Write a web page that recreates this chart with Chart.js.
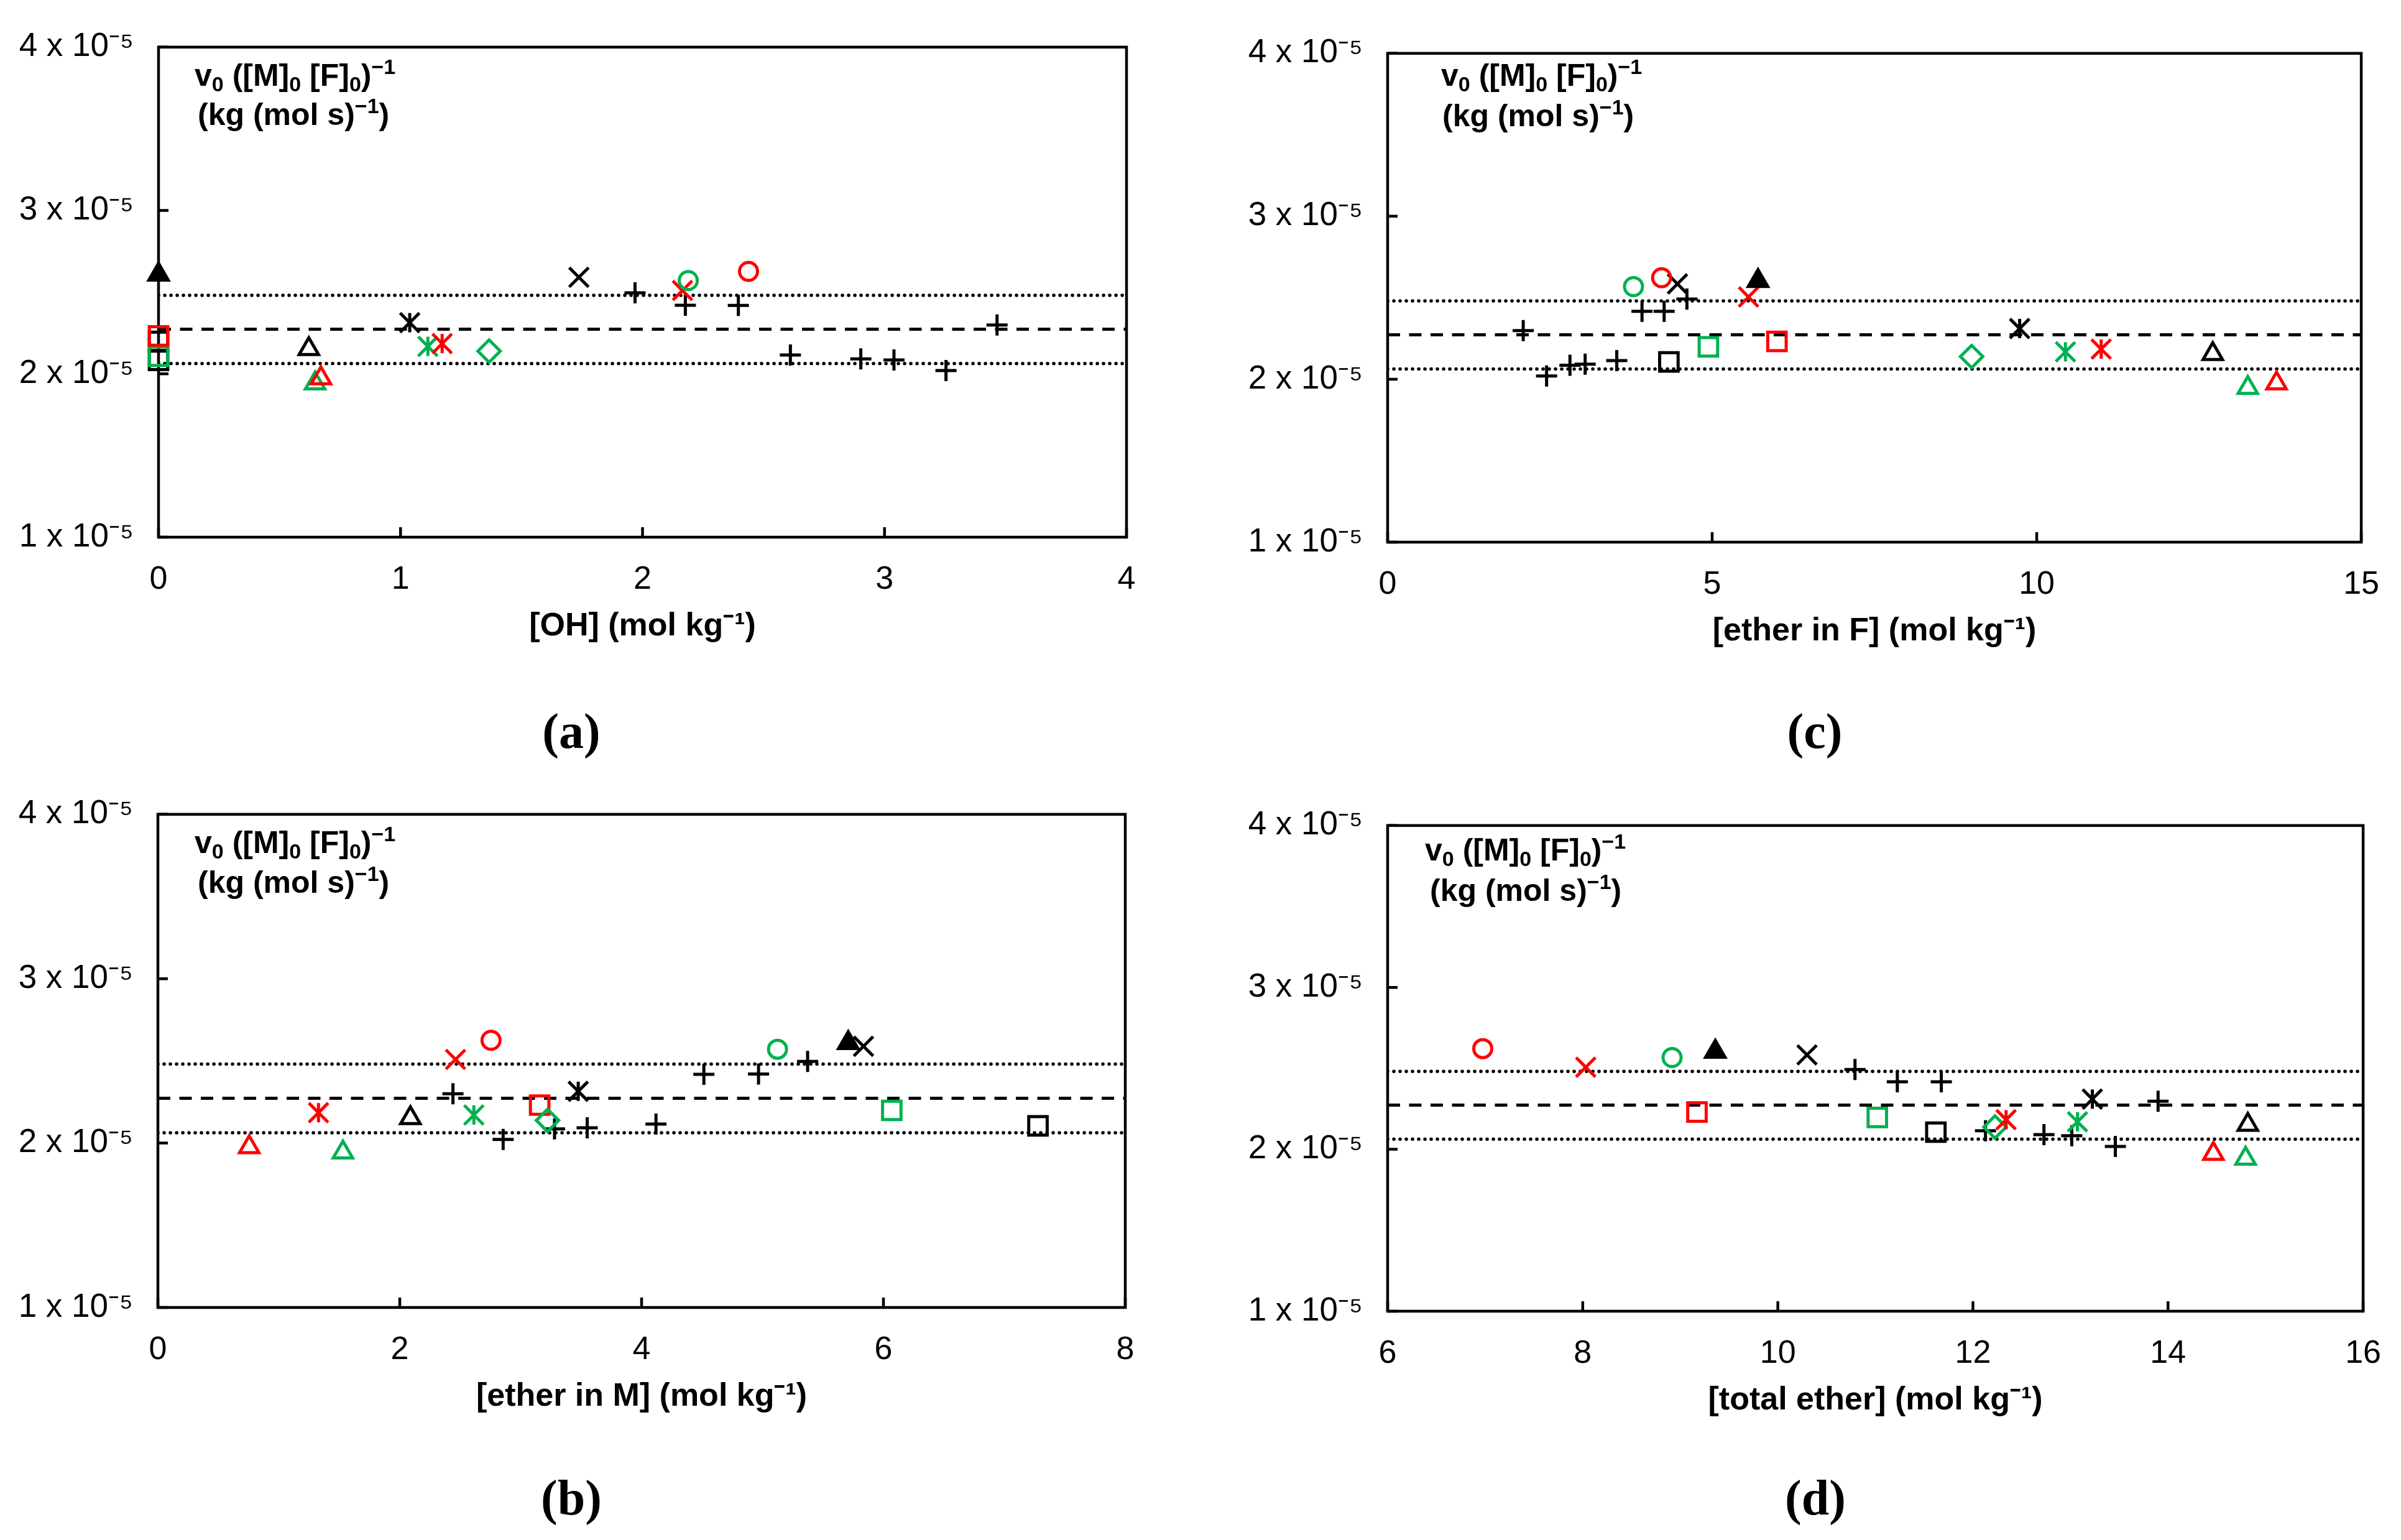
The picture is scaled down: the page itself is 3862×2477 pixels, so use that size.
<!DOCTYPE html>
<html><head><meta charset="utf-8">
<script src="https://cdn.jsdelivr.net/npm/chart.js@4.4.1/dist/chart.umd.min.js"></script>
<style>
html,body{margin:0;padding:0;background:#fff;width:3862px;height:2477px;overflow:hidden;position:relative;}
canvas{position:absolute;}
.ann{position:absolute;font-family:'Liberation Sans',Arial,sans-serif;font-weight:bold;font-size:50px;line-height:50px;color:#000;white-space:nowrap;}
.ann .sb{font-size:34px;position:relative;top:9px;}
.ann .sp{font-size:34px;position:relative;top:-19px;}
.plabel{position:absolute;font-family:'Liberation Serif','Times New Roman',serif;font-weight:bold;font-size:80px;color:#000;transform:translate(-50%,-50%);white-space:nowrap;}
</style></head><body>
<script>
// ---------------- data ----------------
// series order for single-point samples
const SERIES = ['blackTriFill','redCircle','greenCircle','blackX','redX','redStar','greenStar','blackStar','greenDiamond','redTri','greenTri','blackTri','redSq','greenSq','blackSq'];

// (a) [OH]
const ohX = [0, 2.438, 2.189, 1.737, 2.165, 1.172, 1.113, 1.038, 1.366, 0.671, 0.647, 0.621, 0, 0, 0];
const ohY = [2.608e-5, 2.627e-5, 2.571e-5, 2.591e-5, 2.510e-5, 2.185e-5, 2.168e-5, 2.313e-5, 2.139e-5, 1.973e-5, 1.942e-5, 2.152e-5, 2.232e-5, 2.108e-5, 2.082e-5];
const ohPlusX = [1.969, 2.177, 2.396, 3.465, 2.611, 2.902, 3.039, 3.254];
const ohPlusY = [2.496e-5, 2.420e-5, 2.419e-5, 2.299e-5, 2.115e-5, 2.091e-5, 2.085e-5, 2.020e-5];
const ohExtraSqX = [0];
const ohExtraSqY = [2.199e-5];

// (c) [ether in F]
const efX = [5.706, 4.221, 3.788, 4.465, 5.560, 10.993, 10.443, 9.737, 8.997, 13.695, 13.252, 12.712, 5.998, 4.942, 4.333];
const efY = [2.604e-5, 2.623e-5, 2.568e-5, 2.585e-5, 2.505e-5, 2.185e-5, 2.168e-5, 2.311e-5, 2.139e-5, 1.975e-5, 1.947e-5, 2.155e-5, 2.232e-5, 2.199e-5, 2.106e-5];
const efPlusX = [4.611, 3.919, 4.260, 2.089, 3.530, 2.809, 3.043, 2.449];
const efPlusY = [2.492e-5, 2.417e-5, 2.417e-5, 2.298e-5, 2.114e-5, 2.086e-5, 2.092e-5, 2.020e-5];

// (b) [ether in M]
const emX = [5.709, 2.755, 5.124, 5.835, 2.461, 1.328, 2.613, 3.476, 3.222, 0.755, 1.530, 2.088, 3.157, 6.069, 7.278];
const emY = [2.609e-5, 2.625e-5, 2.571e-5, 2.589e-5, 2.509e-5, 2.185e-5, 2.171e-5, 2.315e-5, 2.138e-5, 1.976e-5, 1.944e-5, 2.153e-5, 2.231e-5, 2.199e-5, 2.105e-5];
const emPlusX = [5.373, 4.515, 4.967, 2.440, 4.119, 3.280, 3.550, 2.855];
const emPlusY = [2.497e-5, 2.418e-5, 2.420e-5, 2.300e-5, 2.116e-5, 2.086e-5, 2.093e-5, 2.022e-5];

// (d) [total ether]
const teX = [9.359, 6.975, 8.916, 10.299, 8.031, 12.340, 13.072, 13.224, 12.226, 14.465, 14.795, 14.818, 9.171, 11.02, 11.62];
const teY = [2.603e-5, 2.622e-5, 2.567e-5, 2.583e-5, 2.507e-5, 2.183e-5, 2.170e-5, 2.310e-5, 2.138e-5, 1.973e-5, 1.943e-5, 2.152e-5, 2.230e-5, 2.197e-5, 2.106e-5];
const tePlusX = [10.791, 11.225, 11.676, 13.898, 12.129, 12.728, 13.013, 13.460];
const tePlusY = [2.493e-5, 2.417e-5, 2.417e-5, 2.297e-5, 2.115e-5, 2.091e-5, 2.084e-5, 2.018e-5];

// reference lines: mean and band
const meanValue = [2.273e-5];
const bandValues = [2.481e-5, 2.063e-5];

// axes
const yTickValues = [1e-5, 2e-5, 3e-5, 4e-5];
const xLimitsOH = [0, 4, 1];
const xLimitsEF = [0, 15, 5];
const xLimitsEM = [0, 8, 2];
const xLimitsTE = [6, 16, 2];
const xTitles = ['[OH] (mol kg⁻¹)', '[ether in F] (mol kg⁻¹)', '[ether in M] (mol kg⁻¹)', '[total ether] (mol kg⁻¹)'];
const panelLabels = ['(a)', '(c)', '(b)', '(d)'];

// ---------------- styles ----------------
const RED = '#FF0000', GREEN = '#00B050', BLACK = '#000000';
const STYLE = {
  blackTriFill: {ps:'triangle', r:18, c:BLACK, fill:true},
  redCircle:    {ps:'circle', r:14.5, c:RED},
  greenCircle:  {ps:'circle', r:14.5, c:GREEN},
  blackX:       {ps:'crossRot', r:22, c:BLACK},
  redX:         {ps:'crossRot', r:22, c:RED},
  redStar:      {star:true, c:RED},
  greenStar:    {star:true, c:GREEN},
  blackStar:    {star:true, c:BLACK},
  greenDiamond: {ps:'rectRot', r:18, c:GREEN},
  redTri:       {ps:'triangle', r:18, c:RED},
  greenTri:     {ps:'triangle', r:18, c:GREEN},
  blackTri:     {ps:'triangle', r:18, c:BLACK},
  redSq:        {ps:'rect', r:21, c:RED},
  greenSq:      {ps:'rect', r:21, c:GREEN},
  blackSq:      {ps:'rect', r:21, c:BLACK}
};
const LW = 5;

function pts(xs, ys) { return xs.map((x, i) => ({x: x, y: ys[i]})); }

function markerDatasets(name, data) {
  const s = STYLE[name];
  const base = {data: data, showLine: false, clip: false, pointBorderWidth: LW, borderWidth: LW,
    pointBorderColor: s.c, borderColor: s.c, pointHoverRadius: 0};
  if (s.star) {
    return [
      Object.assign({}, base, {label: name, pointStyle: 'crossRot', pointRadius: 22, pointBackgroundColor: 'rgba(0,0,0,0)'}),
      Object.assign({}, base, {label: name + '_v', pointStyle: 'line', pointRotation: 90, pointRadius: 15.5, pointBackgroundColor: 'rgba(0,0,0,0)'})
    ];
  }
  return [Object.assign({}, base, {label: name, pointStyle: s.ps, pointRadius: s.r,
    pointBackgroundColor: s.fill ? s.c : 'rgba(0,0,0,0)', backgroundColor: s.fill ? s.c : 'rgba(0,0,0,0)'})];
}

const framePlugin = {
  id: 'frame',
  beforeDatasetsDraw(chart) {
    const {ctx, chartArea: a} = chart;
    const xs = chart.scales.x, ys = chart.scales.y;
    ctx.save();
    ctx.strokeStyle = '#000';
    ctx.lineWidth = 4.5;
    ctx.beginPath();
    xs.ticks.forEach(t => { const px = xs.getPixelForValue(t.value); ctx.moveTo(px, a.bottom); ctx.lineTo(px, a.bottom - 16); });
    ys.ticks.forEach(t => { const py = ys.getPixelForValue(t.value); ctx.moveTo(a.left, py); ctx.lineTo(a.left + 16, py); });
    ctx.stroke();
    ctx.strokeRect(a.left, a.top, a.right - a.left, a.bottom - a.top);
    ctx.restore();
  }
};

// panel geometry (page pixels)
const PANELS = [
  {left:254.5, right:1811, top:43.7, bottom:863.9, xs:ohX, ys:ohY, px:ohPlusX, py:ohPlusY, lim:xLimitsOH, t:0,
   ann:[313, 96, 318, 159], lab:[919, 1176], extra:true},
  {left:2231.5, right:3803, top:54.1, bottom:872.2, xs:efX, ys:efY, px:efPlusX, py:efPlusY, lim:xLimitsEF, t:1,
   ann:[2318, 96, 2320, 161], lab:[2919, 1176]},
  {left:254, right:1809.6, top:1278.4, bottom:2103.7, xs:emX, ys:emY, px:emPlusX, py:emPlusY, lim:xLimitsEM, t:2,
   ann:[313, 1330, 318, 1394], lab:[919, 2409]},
  {left:2231.5, right:3806.5, top:1295.9, bottom:2109.2, xs:teX, ys:teY, px:tePlusX, py:tePlusY, lim:xLimitsTE, t:3,
   ann:[2292, 1342, 2300, 1407], lab:[2920, 2409]}
];

Chart.defaults.font.family = "'Liberation Sans', Arial, sans-serif";
Chart.defaults.color = '#000';

PANELS.forEach(p => {
  const padL = 260, padT = 40, padR = 60, padB = 230;
  const cw = Math.round(p.right - p.left + padL + padR);
  const ch = Math.round(p.bottom - p.top + padT + padB);
  const cv = document.createElement('canvas');
  cv.width = cw; cv.height = ch;
  cv.style.left = (p.left - padL) + 'px';
  cv.style.top = (p.top - padT) + 'px';
  cv.style.width = cw + 'px';
  cv.style.height = ch + 'px';
  document.body.appendChild(cv);

  const datasets = [];
  SERIES.forEach((name, i) => {
    markerDatasets(name, [{x: p.xs[i], y: p.ys[i]}]).forEach(d => datasets.push(d));
  });
  if (p.extra) markerDatasets('blackSq', pts(ohExtraSqX, ohExtraSqY)).forEach(d => datasets.push(d));
  datasets.push({label: 'plus', data: pts(p.px, p.py), showLine: false, clip: false, pointStyle: 'cross',
    pointRadius: 17, pointBorderWidth: LW, borderWidth: LW, pointBorderColor: BLACK, borderColor: BLACK, pointHoverRadius: 0});
  const xmin = p.lim[0], xmax = p.lim[1];
  datasets.push({label: 'mean', data: [{x: xmin, y: meanValue[0]}, {x: xmax, y: meanValue[0]}], showLine: true,
    pointRadius: 0, borderColor: BLACK, borderWidth: 5, borderDash: [20, 14.5], borderCapStyle: 'butt'});
  bandValues.forEach(v => {
    datasets.push({label: 'band', data: [{x: xmin, y: v}, {x: xmax, y: v}], showLine: true,
      pointRadius: 0, borderColor: BLACK, borderWidth: 5.5, borderDash: [0.1, 9.9], borderCapStyle: 'round'});
  });

  new Chart(cv, {
    type: 'scatter',
    data: {datasets: datasets},
    options: {
      responsive: false, animation: false, devicePixelRatio: 1,
      layout: {padding: {left: 0, top: padT, right: padR, bottom: 0}},
      plugins: {legend: {display: false}, tooltip: {enabled: false}},
      events: [],
      scales: {
        x: {
          type: 'linear', min: xmin, max: xmax,
          grid: {display: false, drawTicks: false}, border: {display: false},
          ticks: {stepSize: p.lim[2], autoSkip: false, padding: 37, font: {size: 52}, color: '#000', maxRotation: 0,
                  callback: v => String(v)},
          title: {display: true, text: xTitles[p.t], font: {size: 52, weight: 'bold'}, color: '#000',
                  padding: {top: 0, bottom: 54.8}},
          afterFit: s => { s.height = padB; }
        },
        y: {
          type: 'linear', min: yTickValues[0], max: yTickValues[yTickValues.length - 1],
          grid: {display: false, drawTicks: false}, border: {display: false},
          afterBuildTicks: s => { s.ticks = yTickValues.map(v => ({value: v})); },
          ticks: {padding: 40, font: {size: 53}, color: '#000',
                  callback: v => Math.round(v * 1e5) + ' x 10⁻⁵'},
          afterFit: s => { s.width = padL; }
        }
      }
    },
    plugins: [framePlugin]
  });

  const a1 = document.createElement('div');
  a1.className = 'ann';
  a1.style.left = p.ann[0] + 'px'; a1.style.top = p.ann[1] + 'px';
  a1.innerHTML = 'v<span class="sb">0</span> ([M]<span class="sb">0</span> [F]<span class="sb">0</span>)<span class="sp">−1</span>';
  document.body.appendChild(a1);
  const a2 = document.createElement('div');
  a2.className = 'ann';
  a2.style.left = p.ann[2] + 'px'; a2.style.top = p.ann[3] + 'px';
  a2.innerHTML = '(kg (mol s)<span class="sp">−1</span>)';
  document.body.appendChild(a2);

  const lb = document.createElement('div');
  lb.className = 'plabel';
  lb.style.left = p.lab[0] + 'px'; lb.style.top = p.lab[1] + 'px';
  lb.textContent = panelLabels[p.t];
  document.body.appendChild(lb);
});
</script>
</body></html>
